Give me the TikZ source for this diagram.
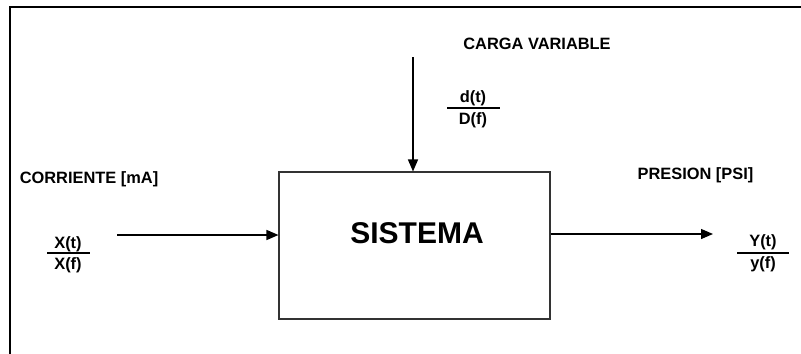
\documentclass[tikz,border=0pt]{standalone}
\usepackage{fontspec}
\setmainfont{Liberation Sans}
\usepackage{tikz}
\usetikzlibrary{positioning,arrows.meta,calc}

\begin{document}
\begin{tikzpicture}[
    x=0.75pt, y=-0.75pt,
    every node/.style={font=\fontsize{12.3}{14}\selectfont\bfseries, inner sep=0pt},
    sysNode/.style={rectangle, draw=black!80, line width=0.8pt, minimum width=203.25pt, minimum height=110.25pt},
    bigLabel/.style={font=\fontsize{22.5}{26}\selectfont\bfseries},
    fracText/.style={anchor=base},
    sigEdge/.style={draw=black, line width=1pt, -{Triangle[length=9pt, width=7.5pt]}},
    fracRule/.style={draw=black, line width=1pt},
    frameLine/.style={draw=black, line width=1.5pt}
]
    \useasboundingbox (0,0) rectangle (801,354);
    \draw [frameLine] (9.5,354) -- (9.5,7) -- (801,7);

    % bloque del sistema
    \node [sysNode] (box) at (414.5,245.5) {};
    \node [bigLabel] (sistema) at (417,233) {SISTEMA};

    % entrada
    \node (corriente) at (89,179) {CORRIENTE [mA]};
    \node [fracText] (xnum) at (68,248) {X(t)};
    \node [fracText] (xden) at (68,269) {X(f)};
    \draw [fracRule] (47,253) -- (90,253);
    \coordinate (inStart) at (117,235);
    \path [sigEdge] (inStart) -- (inStart -| box.west);

    % perturbacion
    \node (carga) at (537,44) {CARGA VARIABLE};
    \node [fracText] (dnum) at (473,102) {d(t)};
    \node [fracText] (dden) at (473,124) {D(f)};
    \draw [fracRule] (447,108) -- (500,108);
    \coordinate (dStart) at (413,57);
    \path [sigEdge] (dStart) -- (dStart |- box.north);

    % salida
    \node (presion) at (695.5,175) {PRESION [PSI]};
    \node [fracText] (ynum) at (763,246) {Y(t)};
    \node [fracText] (yden) at (763,268) {y(f)};
    \draw [fracRule] (737,253) -- (789,253);
    \coordinate (outEnd) at (713,234);
    \path [sigEdge] (box.east |- outEnd) -- (outEnd);
\end{tikzpicture}
\end{document}
